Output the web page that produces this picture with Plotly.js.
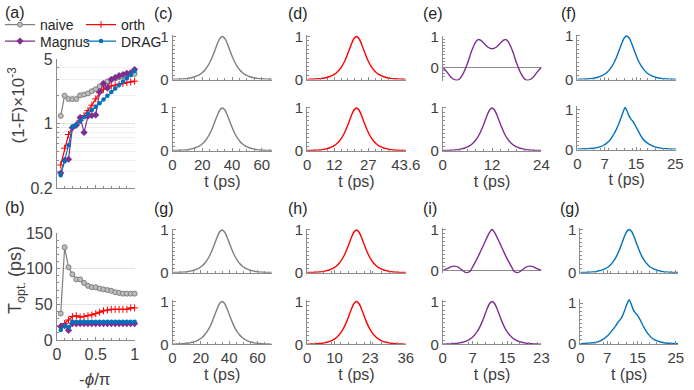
<!DOCTYPE html>
<html>
<head>
<meta charset="utf-8">
<script src="https://cdn.plot.ly/plotly-3.0.1.min.js"></script>
<style>html,body{margin:0;padding:0;background:#fff;}#chart{width:694px;height:390px;}</style>
</head>
<body>
<div id="chart"></div>
<script>
// ---------------- data ----------------
const phi = [0.05,0.1,0.15,0.2,0.25,0.3,0.35,0.4,0.45,0.5,0.55,0.6,0.65,0.7,0.75,0.8,0.85,0.9,0.95,1.0];
// (a) infidelity (1-F) x 1e-3
const fidNaive  = [1.21,2.0,1.84,1.84,1.84,2.02,2.06,2.12,2.24,2.35,2.52,2.72,2.86,2.98,3.08,3.18,3.26,3.34,3.4,3.45];
const fidOrth   = [0.355,0.54,0.76,0.9,0.97,1.08,1.22,1.38,1.58,1.85,2.15,2.35,2.48,2.55,2.6,2.66,2.72,2.78,2.82,2.88];
const fidMagnus = [0.29,0.40,0.41,0.9,0.96,1.16,0.8,1.2,1.22,1.24,2.2,2.7,2.42,3.0,3.15,3.3,3.4,3.5,3.55,3.85];
const fidDRAG   = [0.275,0.39,0.58,0.93,0.97,1.06,1.17,1.28,1.4,1.52,1.66,1.82,2.0,2.2,2.4,2.62,2.85,3.1,3.35,3.7];
// (b) optimal duration (ps)
const durNaive  = [37,130,102,92,85,85,80,76,74,74,72,71,70,69,67,66,65,65,65,65];
const durOrth   = [19,23,28,33,34,32,33,34,35,37,39,41,42,43,43,43,43,43,45,45];
const durMagnus = [19,20,13.5,23,23,23,23,23,23,23,23,23,23,23,23,23,23,23,23,23];
const durDRAG   = [14,19.5,18,25.5,25.5,25.5,25.5,25.5,25.5,25.5,25.5,25.5,25.5,25.5,25.5,25.5,25.5,25.5,25.5,25.5];
// legend names
const seriesNames = ['naive','orth','Magnus','DRAG'];
// pulse shapes (normalised amplitude, sampled uniformly over the pulse window)
const sechPulse = [0.004,0.005,0.007,0.010,0.013,0.018,0.025,0.034,0.047,0.064,0.088,0.120,0.163,0.222,0.300,0.402,0.530,0.678,0.832,0.953,1.0,
                   0.953,0.832,0.678,0.530,0.402,0.300,0.222,0.163,0.120,0.088,0.064,0.047,0.034,0.025,0.018,0.013,0.010,0.007,0.005,0.004];
const eTopT = [0,1,2,3,3.5,4,5,6,7,8,8.6,9.2,10,11,12,13,14,14.8,15.4,16,17,18,19,20,20.5,21,22,23,24];
const eTopV = [0,-0.15,-0.32,-0.41,-0.42,-0.39,-0.2,0.12,0.52,0.82,0.9,0.88,0.78,0.65,0.6,0.65,0.78,0.88,0.9,0.82,0.52,0.12,-0.2,-0.39,-0.42,-0.41,-0.32,-0.15,0];
const iTopT = [0,1,2,2.8,3.7,4.6,5.5,6.3,7,7.8,8.6,9.4,10.2,11,11.5,12,12.8,13.6,14.4,15.2,16,16.7,17.5,18.4,19.3,20.2,21,22,23];
const iTopV = [0,0.05,0.1,0.11,0.08,0.01,-0.05,-0.02,0.1,0.25,0.42,0.6,0.78,0.94,1.0,0.94,0.78,0.6,0.42,0.25,0.1,-0.02,-0.05,0.01,0.08,0.11,0.1,0.05,0];
const fBotT = [0,2,4,5.5,6.6,7.5,8.3,9.1,9.9,10.4,10.8,11.3,11.8,12.2,12.6,13.1,13.6,14.2,14.8,15.4,16.0,16.7,17.5,18.4,19.5,20.9,22.5,25.2];
const fBotV = [0.01,0.02,0.03,0.06,0.1,0.16,0.23,0.35,0.49,0.6,0.7,0.83,0.97,1.05,0.98,0.86,0.77,0.7,0.6,0.49,0.38,0.27,0.19,0.13,0.08,0.04,0.02,0.01];
const g2BotT = [0,2,4,5.5,7,8,9,10,10.5,11,11.6,12.2,12.8,13.3,13.8,14.4,15.0,15.6,16.3,17.0,17.8,18.6,19.5,21,23,25.6];
const g2BotV = [0.01,0.02,0.04,0.09,0.19,0.29,0.41,0.55,0.6,0.68,0.82,0.97,1.08,0.98,0.85,0.76,0.7,0.6,0.47,0.35,0.24,0.16,0.1,0.05,0.02,0.01];
// pulse windows (ps) and tick labels
const spanC = 67,  ticksC = [0,20,40,60];
const spanD = 43.6, ticksD = [0,12,27,43.6];
const spanE = 24,  ticksE = [0,12,24];
const spanF = 25.2, ticksF = [0,7,15,25];
const spanG = 70,  ticksG = [0,20,40,60];
const spanH = 36,  ticksH = [0,10,23,36];
const spanI = 23,  ticksI = [0,7,15,23];
const spanG2 = 25.6, ticksG2 = [0,7,15,25];
const panelLabels = ['(a)','(b)','(c)','(d)','(e)','(f)','(g)','(h)','(i)','(g)'];

// ---------------- styling / layout ----------------
const W = 694, H = 390;
const F = 'Liberation Sans, Arial, Helvetica, sans-serif';
const AX = '#8c8c8c', TXT = '#404040', DARK = '#262626';
const GRAY = '#7f7f7f', RED = '#ff0000', PURPLE = '#7e2f8e', BLUE = '#0072bd';
const xd = (a, b) => [a / W, b / W];
const yDom = (p0, p1, r) => { const s = p0 - p1; const top = p1 - (r[1] - 1) * s; const bot = p0 - r[0] * s; return [1 - bot / H, 1 - top / H]; };

const base = {
  showline: true, linecolor: AX, linewidth: 1, ticks: 'inside', ticklen: 3, tickcolor: AX,
  tickfont: {family: F, size: 15, color: TXT}, showgrid: false, zeroline: false,
  fixedrange: true, automargin: false
};

const legendBase = {x: -2 / W, xanchor: 'left', yanchor: 'top', orientation: 'h',
  font: {family: F, size: 14, color: DARK}, bgcolor: 'rgba(0,0,0,0)', borderwidth: 0,
  entrywidth: 36, entrywidthmode: 'pixels', itemclick: false, itemdoubleclick: false, tracegroupgap: 0};

const traces = [];
const layout = {
  width: W, height: H, margin: {l: 0, r: 0, t: 0, b: 0},
  paper_bgcolor: '#fff', plot_bgcolor: 'rgba(0,0,0,0)',
  font: {family: F, color: TXT},
  showlegend: true,
  legend: Object.assign({}, legendBase, {y: 1 - 9 / H}),
  legend2: Object.assign({}, legendBase, {y: 1 - 25.5 / H}),
  annotations: [], hovermode: false
};

// (a) and (b)
const markers = [
  {symbol: 'circle', size: 5, color: '#bdbdbd', line: {color: GRAY, width: 1}},
  {symbol: 'cross-thin', size: 5, color: RED, line: {color: RED, width: 1}},
  {symbol: 'diamond', size: 5.5, color: PURPLE, line: {width: 0}},
  {symbol: 'circle', size: 4.5, color: BLUE, line: {width: 0}}
];
const colors = [GRAY, RED, PURPLE, BLUE];
const fids = [fidNaive, fidOrth, fidMagnus, fidDRAG];
const durs = [durNaive, durOrth, durMagnus, durDRAG];
for (let k = 0; k < 4; k++) {
  traces.push({x: phi, y: fids[k], xaxis: 'x', yaxis: 'y', type: 'scatter', mode: 'lines+markers',
    name: seriesNames[k], legend: k < 2 ? 'legend' : 'legend2', line: {color: colors[k], width: 1.2},
    marker: markers[k], cliponaxis: false});
}
for (let k = 0; k < 4; k++) {
  traces.push({x: phi, y: durs[k], xaxis: 'x2', yaxis: 'y2', type: 'scatter', mode: 'lines+markers',
    showlegend: false, line: {color: colors[k], width: 1.2}, marker: markers[k], cliponaxis: false});
}
const bigTick = {family: F, size: 16, color: TXT};
layout.xaxis = Object.assign({}, base, {domain: xd(55, 133), range: [0, 1], anchor: 'y',
  tickmode: 'array', tickvals: [0, 0.5, 1], showticklabels: false,
  minor: {dtick: 0.1, ticks: 'inside', ticklen: 2, tickcolor: AX}});
layout.yaxis = Object.assign({}, base, {domain: [1 - 188 / H, 1 - 59 / H], type: 'log',
  range: [Math.log10(0.2), Math.log10(5)], anchor: 'x', tickmode: 'array', tickvals: [0.2, 1, 5],
  ticktext: ['0.2', '1', '5'], tickfont: bigTick, showgrid: true, gridcolor: '#e3e3e3',
  minor: {tickvals: [0.3,0.4,0.5,0.6,0.7,0.8,0.9,2,3,4], ticks: 'inside', ticklen: 2, tickcolor: AX,
          showgrid: true, gridcolor: '#efefef'}});
layout.xaxis2 = Object.assign({}, base, {domain: xd(55, 133), range: [0, 1], anchor: 'y2',
  tickmode: 'array', tickvals: [0, 0.5, 1], ticktext: ['0', '0.5', '1'], tickfont: bigTick,
  minor: {dtick: 0.1, ticks: 'inside', ticklen: 2, tickcolor: AX}});
layout.yaxis2 = Object.assign({}, base, {domain: [1 - 340 / H, 1 - 233 / H], range: [0, 150], anchor: 'x2',
  tickmode: 'array', tickvals: [0, 50, 100, 150], tickfont: bigTick, showgrid: true, gridcolor: '#e6e6e6',
  minor: {dtick: 10, ticks: 'inside', ticklen: 2, tickcolor: AX}});

// small pulse panels
const R = [0, 1.03];
const panels = [
  {n: 3,  xp: [171, 271],   yp: [79.5, 36.5],  r: R, span: spanC, ticks: ticksC, md: 5, c: GRAY,   low: false},
  {n: 4,  xp: [171, 271],   yp: [150.7, 108],  r: R, span: spanC, ticks: ticksC, md: 5, c: GRAY,   low: true},
  {n: 5,  xp: [306, 405],   yp: [79.5, 36.5],  r: R, span: spanD, ticks: ticksD, md: 3, c: RED,    low: false},
  {n: 6,  xp: [306, 405],   yp: [150.7, 108],  r: R, span: spanD, ticks: ticksD, md: 3, c: RED,    low: true},
  {n: 7,  xp: [442, 541],   yp: [67.3, 36.5],  r: [-0.43, 1.03], span: spanE, ticks: ticksE, md: 2, c: PURPLE, low: false, origin: true, tx: eTopT, ty: eTopV},
  {n: 8,  xp: [442, 541],   yp: [150.7, 108],  r: R, span: spanE, ticks: ticksE, md: 2, c: PURPLE, low: true},
  {n: 9,  xp: [577, 676],   yp: [79.5, 36.0],  r: R, span: spanF, ticks: ticksF, md: 2, c: BLUE,   low: false},
  {n: 10, xp: [577, 676],   yp: [149.5, 109.5], r: [0, 1.1], span: spanF, ticks: ticksF, md: 2, c: BLUE, low: true, tx: fBotT, ty: fBotV},
  {n: 11, xp: [171, 270.5], yp: [272.7, 230],  r: R, span: spanG, ticks: ticksG, md: 5, c: GRAY,   low: false},
  {n: 12, xp: [171, 270.5], yp: [344.3, 301.5], r: R, span: spanG, ticks: ticksG, md: 5, c: GRAY,  low: true},
  {n: 13, xp: [306, 405],   yp: [272.7, 230],  r: R, span: spanH, ticks: ticksH, md: 3, c: RED,    low: false},
  {n: 14, xp: [306, 405],   yp: [344.3, 301.5], r: R, span: spanH, ticks: ticksH, md: 3, c: RED,   low: true},
  {n: 15, xp: [442, 541],   yp: [270.7, 229.5], r: [-0.06, 1.03], span: spanI, ticks: ticksI, md: 2, c: PURPLE, low: false, origin: true, tx: iTopT, ty: iTopV},
  {n: 16, xp: [442, 541],   yp: [344.3, 301.5], r: R, span: spanI, ticks: ticksI, md: 2, c: PURPLE, low: true},
  {n: 17, xp: [580, 678],   yp: [272.7, 229.5], r: R, span: spanG2, ticks: ticksG2, md: 2, c: BLUE, low: false},
  {n: 18, xp: [580, 678],   yp: [344, 303],    r: [0, 1.1], span: spanG2, ticks: ticksG2, md: 2, c: BLUE, low: true, tx: g2BotT, ty: g2BotV}
];
for (const p of panels) {
  const tr = {xaxis: 'x' + p.n, yaxis: 'y' + p.n, type: 'scatter', mode: 'lines', showlegend: false,
    line: {color: p.c, width: 1.4, shape: 'spline', smoothing: 0.8}};
  if (p.tx) { tr.x = p.tx; tr.y = p.ty; }
  else { tr.y = sechPulse; tr.x0 = 0; tr.dx = p.span / (sechPulse.length - 1); }
  traces.push(tr);
  const xa = Object.assign({}, base, {domain: xd(p.xp[0], p.xp[1]), range: [0, p.span], anchor: 'y' + p.n,
    tickmode: 'array', tickvals: p.ticks, showticklabels: p.low,
    minor: {dtick: p.md, ticks: 'inside', ticklen: 2, tickcolor: AX}});
  if (p.origin) { xa.showline = false; xa.ticks = ''; xa.minor = {ticks: ''}; }
  if (p.low) xa.title = {text: 't (ps)', font: {family: F, size: 16, color: TXT}, standoff: 0};
  layout['xaxis' + p.n] = xa;
  const ya = Object.assign({}, base, {domain: yDom(p.yp[0], p.yp[1], p.r), range: p.r, anchor: 'x' + p.n,
    tickmode: 'array', tickvals: [0, 1],
    minor: {dtick: 0.1, ticks: 'inside', ticklen: 2, tickcolor: AX}});
  if (p.origin) { ya.zeroline = true; ya.zerolinecolor = AX; ya.zerolinewidth = 1; }
  layout['yaxis' + p.n] = ya;
}

// panel labels and titles
const labelPos = [[1,12],[1,207],[150,14],[285,14],[420,14],[559,14],[150,208],[285,208],[420,208],[558,208]];
panelLabels.forEach((t, i) => {
  layout.annotations.push({text: t, xref: 'paper', yref: 'paper', x: labelPos[i][0] / W, y: 1 - labelPos[i][1] / H,
    xanchor: 'left', yanchor: 'middle', showarrow: false, font: {family: F, size: 16, color: DARK}});
});
layout.annotations.push({text: '(1-F)×10<sup>-3</sup>', xref: 'paper', yref: 'paper', x: 14.5 / W, y: 1 - 105 / H,
  textangle: -90, xanchor: 'center', yanchor: 'middle', showarrow: false, font: {family: F, size: 17, color: TXT}});
layout.annotations.push({text: 'T<sub>opt.</sub> (ps)', xref: 'paper', yref: 'paper', x: 14 / W, y: 1 - 280 / H,
  textangle: -90, xanchor: 'center', yanchor: 'middle', showarrow: false, font: {family: F, size: 18, color: TXT}});
layout.annotations.push({text: '-<i>ϕ</i>/π', xref: 'paper', yref: 'paper', x: 93 / W, y: 1 - 379 / H,
  xanchor: 'center', yanchor: 'middle', showarrow: false, font: {family: F, size: 17, color: TXT}});

Plotly.newPlot('chart', traces, layout, {staticPlot: true, displayModeBar: false});
</script>
</body>
</html>
